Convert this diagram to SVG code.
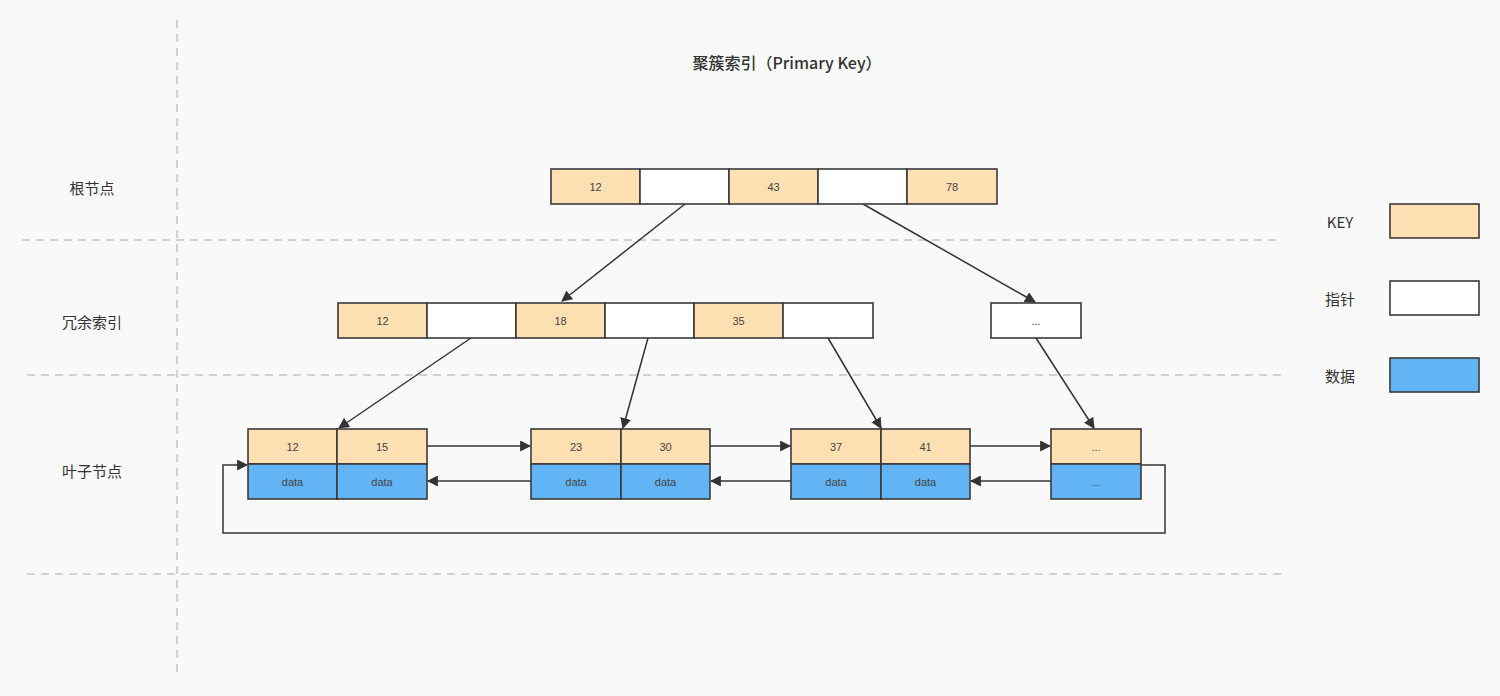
<svg xmlns="http://www.w3.org/2000/svg" width="1500" height="696" viewBox="0 0 1500 696">
<defs>
<style>
.bg{fill:#f9f9f9}
.guide{stroke:#a8a8a8;stroke-width:1;stroke-dasharray:8 6;fill:none}
.k{fill:#ffe0b2;stroke:#3a3a3a;stroke-width:1.6}
.p{fill:#ffffff;stroke:#3a3a3a;stroke-width:1.6}
.d{fill:#63b4f5;stroke:#3a3a3a;stroke-width:1.6}
.t{font-family:"Liberation Sans",Arial,sans-serif;font-size:11px;fill:#444;text-anchor:middle;dominant-baseline:central}
.lbl{font-family:"Noto Sans CJK SC","Liberation Sans",sans-serif;font-size:15px;fill:#333;text-anchor:middle;dominant-baseline:central}
.title{font-family:"Noto Sans CJK SC","Liberation Sans",sans-serif;font-size:16px;fill:#333;text-anchor:middle;dominant-baseline:central;font-weight:500}
.c{stroke:#333;stroke-width:1.5;fill:none}
</style>
<marker id="ah2" viewBox="0 0 10 10" refX="9" refY="5" markerWidth="11" markerHeight="11" markerUnits="userSpaceOnUse" orient="auto">
<path d="M0,0 L10,5 L0,10 z" fill="#333"/>
</marker>
</defs>
<rect class="bg" x="0" y="0" width="1500" height="696"/>

<g id="guides">
<line class="guide" x1="177" y1="20" x2="177" y2="676"/>
<line class="guide" x1="22" y1="240" x2="1282" y2="240"/>
<line class="guide" x1="27" y1="375" x2="1287" y2="375"/>
<line class="guide" x1="27" y1="574" x2="1287" y2="574"/>
</g>

<text class="title" x="787" y="62">聚簇索引（Primary Key）</text>
<text class="lbl" x="92" y="187">根节点</text>
<text class="lbl" x="92" y="321">冗余索引</text>
<text class="lbl" x="92" y="470">叶子节点</text>

<g id="connectors">
<line class="c" x1="685" y1="204" x2="562" y2="301" marker-end="url(#ah2)"/>
<line class="c" x1="863" y1="204" x2="1035" y2="302" marker-end="url(#ah2)"/>
<line class="c" x1="471" y1="338" x2="339" y2="428" marker-end="url(#ah2)"/>
<line class="c" x1="648" y1="338" x2="623" y2="428" marker-end="url(#ah2)"/>
<line class="c" x1="828" y1="338" x2="881" y2="428" marker-end="url(#ah2)"/>
<line class="c" x1="1036" y1="338" x2="1094" y2="428" marker-end="url(#ah2)"/>
<line class="c" x1="427" y1="446" x2="530" y2="446" marker-end="url(#ah2)"/>
<line class="c" x1="710" y1="446" x2="790" y2="446" marker-end="url(#ah2)"/>
<line class="c" x1="970" y1="446" x2="1050" y2="446" marker-end="url(#ah2)"/>
<line class="c" x1="531" y1="481" x2="428" y2="481" marker-end="url(#ah2)"/>
<line class="c" x1="791" y1="481" x2="711" y2="481" marker-end="url(#ah2)"/>
<line class="c" x1="1051" y1="481" x2="971" y2="481" marker-end="url(#ah2)"/>
<polyline class="c" points="1141,465 1165,465 1165,533 223,533 223,465 247,465" marker-end="url(#ah2)"/>
</g>

<g id="root">
<rect class="k" x="551" y="169" width="89" height="35"/><text class="t" x="595.5" y="186.5">12</text>
<rect class="p" x="640" y="169" width="89" height="35"/>
<rect class="k" x="729" y="169" width="89" height="35"/><text class="t" x="773.5" y="186.5">43</text>
<rect class="p" x="818" y="169" width="89" height="35"/>
<rect class="k" x="907" y="169" width="90" height="35"/><text class="t" x="952" y="186.5">78</text>
</g>

<g id="mid1">
<rect class="k" x="338" y="303" width="89" height="35"/><text class="t" x="382.5" y="320.5">12</text>
<rect class="p" x="427" y="303" width="89" height="35"/>
<rect class="k" x="516" y="303" width="89" height="35"/><text class="t" x="560.5" y="320.5">18</text>
<rect class="p" x="605" y="303" width="89" height="35"/>
<rect class="k" x="694" y="303" width="89" height="35"/><text class="t" x="738.5" y="320.5">35</text>
<rect class="p" x="783" y="303" width="90" height="35"/>
</g>

<g id="mid2">
<rect class="p" x="991" y="303" width="90" height="35"/><text class="t" x="1036" y="320.5">...</text>
</g>

<g id="leaf1">
<rect class="k" x="248" y="429" width="89" height="35"/><text class="t" x="292.5" y="446.5">12</text>
<rect class="k" x="337" y="429" width="90" height="35"/><text class="t" x="382" y="446.5">15</text>
<rect class="d" x="248" y="464" width="89" height="35"/><text class="t" x="292.5" y="481.5">data</text>
<rect class="d" x="337" y="464" width="90" height="35"/><text class="t" x="382" y="481.5">data</text>
</g>

<g id="leaf2">
<rect class="k" x="531" y="429" width="90" height="35"/><text class="t" x="576" y="446.5">23</text>
<rect class="k" x="621" y="429" width="89" height="35"/><text class="t" x="665.5" y="446.5">30</text>
<rect class="d" x="531" y="464" width="90" height="35"/><text class="t" x="576" y="481.5">data</text>
<rect class="d" x="621" y="464" width="89" height="35"/><text class="t" x="665.5" y="481.5">data</text>
</g>

<g id="leaf3">
<rect class="k" x="791" y="429" width="90" height="35"/><text class="t" x="836" y="446.5">37</text>
<rect class="k" x="881" y="429" width="89" height="35"/><text class="t" x="925.5" y="446.5">41</text>
<rect class="d" x="791" y="464" width="90" height="35"/><text class="t" x="836" y="481.5">data</text>
<rect class="d" x="881" y="464" width="89" height="35"/><text class="t" x="925.5" y="481.5">data</text>
</g>

<g id="leaf4">
<rect class="k" x="1051" y="429" width="90" height="35"/><text class="t" x="1096" y="446.5">...</text>
<rect class="d" x="1051" y="464" width="90" height="35"/><text class="t" x="1096" y="481.5">...</text>
</g>

<g id="legend">
<text class="lbl" x="1340" y="221" font-size="13">KEY</text>
<rect class="k" x="1390" y="204" width="89" height="34"/>
<text class="lbl" x="1340" y="298" font-size="13">指针</text>
<rect class="p" x="1390" y="281" width="89" height="34"/>
<text class="lbl" x="1340" y="375" font-size="13">数据</text>
<rect class="d" x="1390" y="358" width="89" height="34"/>
</g>
</svg>
